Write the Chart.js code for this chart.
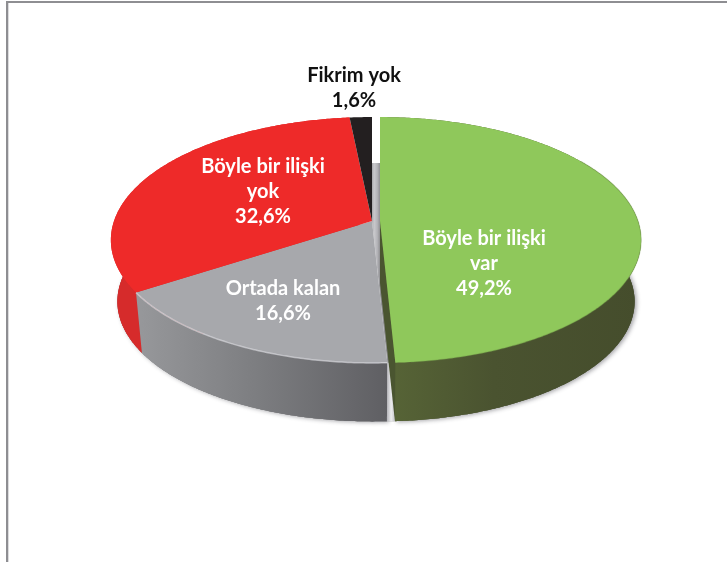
<!DOCTYPE html>
<html lang="tr">
<head>
<meta charset="utf-8">
<style>
html,body{margin:0;padding:0;background:#fff;overflow:hidden}
#wrap{position:relative;width:727px;height:562px}
#frame{position:absolute;left:6px;top:1px;right:0;bottom:0;border-left:2px solid #8e8e92;border-top:2px solid #8e8e92;box-shadow:inset 1px 0 0 #dcdcde}
canvas{position:absolute;left:0;top:0}
</style>
<script src="https://cdn.jsdelivr.net/npm/chart.js@4/dist/chart.umd.min.js"></script>
</head>
<body>
<div id="wrap"><div id="frame"></div><canvas id="c" width="727" height="562"></canvas></div>
<script>
const categories = ['Böyle bir ilişki var', 'Ortada kalan', 'Böyle bir ilişki yok', 'Fikrim yok'];
const values = [49.2, 16.6, 32.6, 1.6];
const labelLines = [['Böyle bir ilişki', 'var'], ['Ortada kalan'], ['Böyle bir ilişki', 'yok'], ['Fikrim yok']];
const topColors = ['#8FC85B', '#A7A8AC', '#EE2A29', '#231F20'];
const labelColors = ['#ffffff', '#ffffff', '#ffffff', '#111111'];
const explode = [8, 0, 0, 0];
const labelAnchors = [[484, 239], [283, 289], [263, 167], [354, 76]];

/* view of the disc: a perspective projection of the circle of the pie */
const RX = 258, RY = 120, TILT = 0.1545, DEPTH = 62, SHRINK = 0.975, LINE_H = 25;

function pt(el, i, a, lower) {
  const off = explode[i];
  const mid = (el.startAngle + el.endAngle) / 2;
  const f = lower ? SHRINK : 1;
  const u = Math.cos(a), v = Math.sin(a), w = 1 - TILT * v;
  return [el.x + Math.cos(mid) * off + f * RX * u / w,
          el.y + (lower ? DEPTH : 0) + f * RY * v / w];
}
function apex(el, i, lower) {
  const mid = (el.startAngle + el.endAngle) / 2;
  return [el.x + Math.cos(mid) * explode[i], el.y + (lower ? DEPTH : 0)];
}
function arcPts(el, i, lower, from, to) {
  const s = from === undefined ? el.startAngle : from, e = to === undefined ? el.endAngle : to;
  const n = Math.max(2, Math.ceil((e - s) / 0.01)), out = [];
  for (let k = 0; k <= n; k++) out.push(pt(el, i, s + (e - s) * k / n, lower));
  return out;
}
function poly(ctx, pts) {
  ctx.beginPath();
  pts.forEach((p, k) => k ? ctx.lineTo(p[0], p[1]) : ctx.moveTo(p[0], p[1]));
  ctx.closePath();
}
function hGrad(ctx, x0, x1, stops) {
  const g = ctx.createLinearGradient(x0, 0, x1, 0);
  stops.forEach(s => g.addColorStop(s[0], s[1]));
  return g;
}

const pie3d = {
  id: 'pie3d',
  beforeDatasetsDraw(chart) {
    const ctx = chart.ctx, arcs = chart.getDatasetMeta(0).data;
    const [green, gray, red] = arcs;
    ctx.save();

    /* drop shadow under the walls */
    ctx.save();
    ctx.shadowColor = 'rgba(40,40,50,0.42)';
    ctx.shadowBlur = 4; ctx.shadowOffsetX = 2; ctx.shadowOffsetY = 1;
    ctx.fillStyle = '#777';
    arcs.forEach((el, i) => {
      if (i === 3) return;
      poly(ctx, [apex(el, i, true), ...arcPts(el, i, true)]);
      ctx.fill();
    });
    ctx.restore();

    /* walls */
    const wall = (el, i, fill) => {
      poly(ctx, [...arcPts(el, i, false), ...arcPts(el, i, true).reverse()]);
      ctx.fillStyle = fill; ctx.fill();
    };
    const bottomFill = (el, i, fill) => {
      poly(ctx, [apex(el, i, true), ...arcPts(el, i, true)]);
      ctx.fillStyle = fill; ctx.fill();
    };
    bottomFill(red, 2, '#D02A2A'); wall(red, 2, '#D62B2B');
    const grayFill = hGrad(ctx, 137, 388, [[0, '#97989B'], [0.45, '#7E7F82'], [1, '#5F5F63']]);
    bottomFill(gray, 1, grayFill); wall(gray, 1, grayFill);
    const greenFill = hGrad(ctx, 396, 640, [[0, '#566336'], [0.4, '#4A5330'], [1, '#454D2C']]);
    bottomFill(green, 0, greenFill); wall(green, 0, greenFill);

    /* the gap left by the pulled-out slice */
    const gTop = apex(green, 0, false), gRim = pt(green, 0, green.endAngle, false);
    const grayRim = pt(gray, 1, gray.startAngle, false);
    const grayLow = pt(gray, 1, gray.startAngle, true), greenLow = pt(green, 0, green.endAngle, true);
    const backY = gTop[1] - 58;
    poly(ctx, [[gray.x - 1, backY], [gTop[0], backY], [gTop[0], gTop[1]], [greenLow[0], greenLow[1]], [grayLow[0], grayLow[1]], [grayRim[0], grayRim[1]], [gray.x, gray.y]]);
    ctx.fillStyle = hGrad(ctx, gray.x - 1, gTop[0], [[0, '#98989B'], [0.35, '#C9C9CC'], [0.7, '#B4B4B8'], [1, '#8F8F92']]);
    ctx.fill();
    poly(ctx, [[grayRim[0], grayRim[1]], [greenLow[0], gRim[1]], [greenLow[0], greenLow[1]], [grayLow[0], grayLow[1]]]);
    ctx.fillStyle = hGrad(ctx, grayRim[0], greenLow[0], [[0, '#B9B9BD'], [0.5, '#ECECEE'], [1, '#C4C4C8']]);
    ctx.fill();

    /* cut face of the pulled-out slice */
    poly(ctx, [gTop, gRim, greenLow, apex(green, 0, true)]);
    ctx.fillStyle = '#4A5530'; ctx.fill();

    /* top faces */
    arcs.forEach((el, i) => {
      poly(ctx, [apex(el, i, false), ...arcPts(el, i, false)]);
      ctx.fillStyle = el.options.backgroundColor;
      ctx.fill();
    });
    /* soft rims on the green and grey faces */
    const stroke = (pts, color, w) => {
      ctx.beginPath();
      pts.forEach((p, k) => k ? ctx.lineTo(p[0], p[1]) : ctx.moveTo(p[0], p[1]));
      ctx.lineWidth = w; ctx.strokeStyle = color; ctx.stroke();
    };
    stroke(arcPts(gray, 1, false), 'rgba(225,225,230,0.6)', 1.5);
    stroke(arcPts(green, 0, false, green.startAngle + 1.0, green.endAngle - 0.05), 'rgba(110,145,70,0.35)', 1.2);

    ctx.restore();
    return false;
  },
  afterDraw(chart) {
    const ctx = chart.ctx;
    ctx.save();
    ctx.font = 'bold 20px Lato, "Open Sans", sans-serif';
    ctx.textAlign = 'center';
    ctx.textBaseline = 'middle';
    values.forEach((v, i) => {
      const lines = [...labelLines[i], v.toFixed(1).replace('.', ',') + '%'];
      ctx.fillStyle = labelColors[i];
      lines.forEach((t, k) => ctx.fillText(t, labelAnchors[i][0], labelAnchors[i][1] + k * LINE_H));
    });
    ctx.restore();
  }
};

new Chart(document.getElementById('c'), {
  type: 'pie',
  data: { labels: categories, datasets: [{ data: values, backgroundColor: topColors, borderWidth: 0, offset: explode }] },
  options: {
    responsive: false,
    animation: false,
    events: [],
    layout: { padding: { left: 22, right: 5, top: 0, bottom: 120 } },
    plugins: { legend: { display: false }, tooltip: { enabled: false } }
  },
  plugins: [pie3d]
});
</script>
</body>
</html>
